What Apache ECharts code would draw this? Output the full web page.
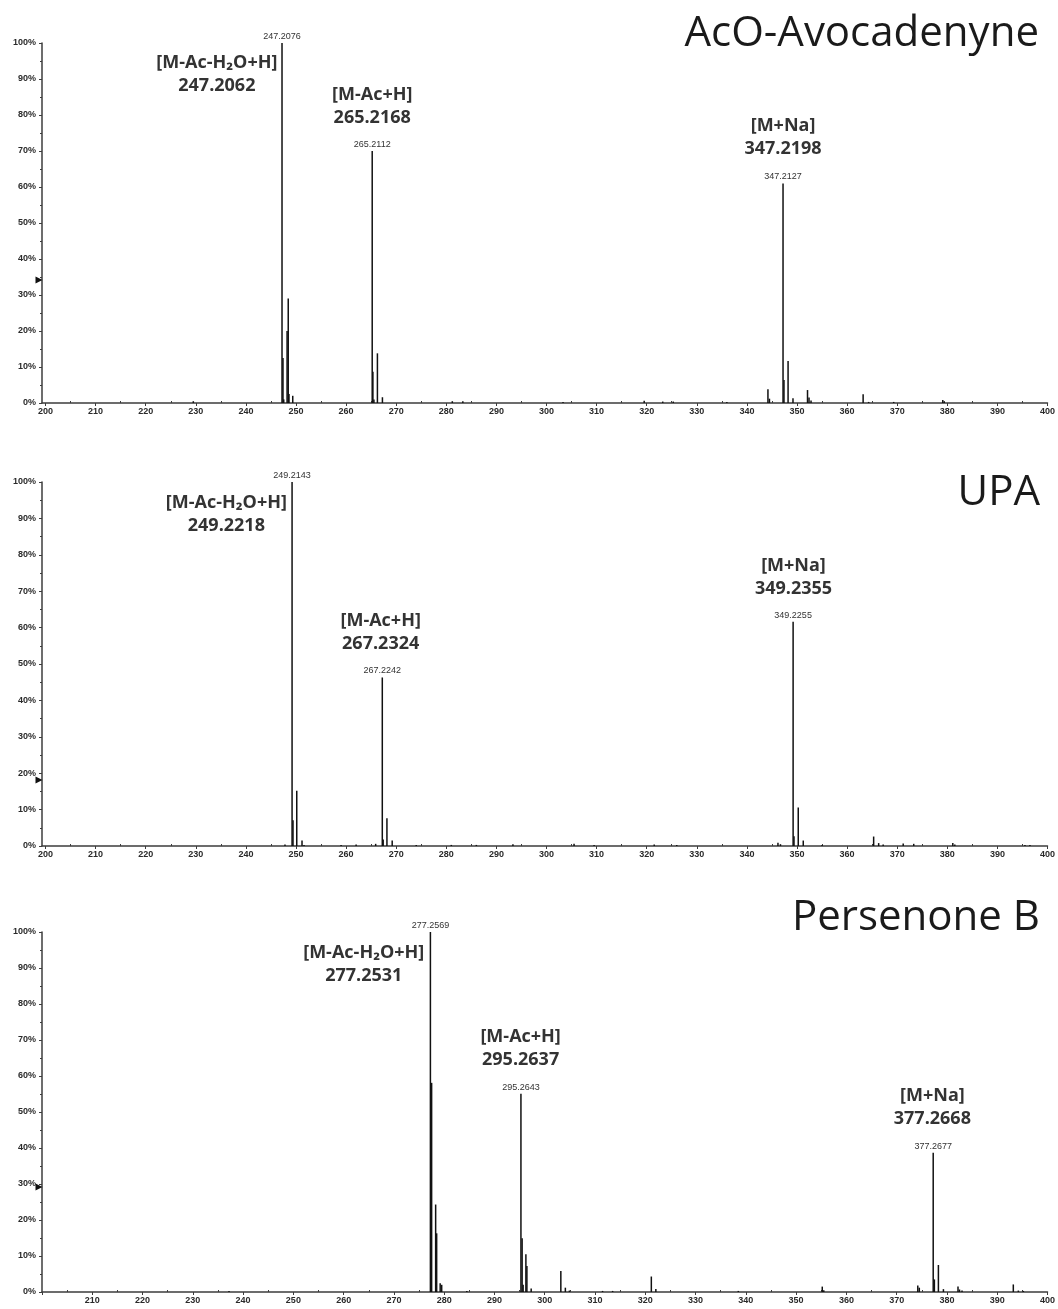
<!DOCTYPE html>
<html>
<head>
<meta charset="utf-8">
<script src="https://cdn.jsdelivr.net/npm/echarts@6/dist/echarts.min.js"></script>
<style>
  html, body { margin: 0; padding: 0; background: #ffffff; }
  #chart { width: 1058px; height: 1309px; }
</style>
</head>
<body>
<div id="chart"></div>
<script>
// ---------------- DATA ----------------
const titles = ['AcO-Avocadenyne', 'UPA', 'Persenone B'];
const ionNames = ['[M-Ac-H₂O+H]', '[M-Ac+H]', '[M+Na]'];

const xTicks1 = [200,210,220,230,240,250,260,270,280,290,300,310,320,330,340,350,360,370,380,390,400];
const xTicks2 = [200,210,220,230,240,250,260,270,280,290,300,310,320,330,340,350,360,370,380,390,400];
const xTicks3 = [210,220,230,240,250,260,270,280,290,300,310,320,330,340,350,360,370,380,390,400];
const xMinorTicks = [205,215,225,235,245,255,265,275,285,295,305,315,325,335,345,355,365,375,385,395];

// Panel 1: AcO-Avocadenyne  (m/z, relative intensity %)
const mz1  = [229.5, 247.2076, 247.40, 247.55, 248.22, 248.45, 248.60, 249.35,
              265.2112, 265.35, 265.55, 266.25, 267.25, 281.2, 283.3, 303.3, 319.5, 323.2, 325.3, 336.0,
              344.2, 344.5, 347.2127, 347.40, 348.22, 349.2, 352.1, 352.4, 352.8, 363.2, 364.3, 369.3, 379.1, 379.4];
const int1 = [0.5, 100, 12.5, 1.0, 20, 29, 2.5, 2.0,
              70, 8.7, 1.0, 13.8, 1.6, 0.5, 0.5, 0.3, 0.6, 0.4, 0.4, 0.3,
              3.8, 1.2, 61, 6.4, 11.7, 1.3, 3.6, 1.5, 0.7, 2.4, 0.3, 0.3, 0.8, 0.5];
const labeled1 = [247.2076, 265.2112, 347.2127];
const theo1 = ['247.2062', '265.2168', '347.2198'];
const threshold1 = 34.2;

// Panel 2: UPA
const mz2  = [247.8, 249.2143, 249.40, 250.15, 251.2, 251.6, 259.0, 262.0, 265.9,
              267.2242, 267.40, 268.15, 269.2, 274.0, 281.0, 286.0, 293.3, 305.5, 309.5, 321.5, 326.0,
              346.2, 346.7, 349.2255, 349.40, 350.25, 351.25, 355.0, 365.3, 366.3, 367.2, 371.2, 373.3, 381.1, 381.5, 395.5, 396.5];
const int2 = [0.4, 100, 7.1, 15.2, 1.5, 0.3, 0.3, 0.4, 0.6,
              46.3, 1.8, 7.6, 1.5, 0.3, 0.3, 0.3, 0.5, 0.6, 0.3, 0.4, 0.3,
              0.9, 0.5, 61.6, 2.7, 10.6, 1.5, 0.3, 2.6, 0.8, 0.4, 0.7, 0.6, 0.8, 0.4, 0.3, 0.3];
const labeled2 = [249.2143, 267.2242, 349.2255];
const theo2 = ['249.2218', '267.2324', '349.2355'];
const threshold2 = 18.1;

// Panel 3: Persenone B
const mz3  = [237.2, 277.2569, 277.38, 277.50, 278.30, 278.50, 279.20, 279.50, 284.5,
              295.2643, 295.50, 295.70, 296.25, 296.45, 297.3, 303.2, 304.1, 304.9, 311.5, 313.5,
              321.2, 322.1, 338.5, 355.2, 355.5, 374.2, 374.5, 377.2677, 377.50, 378.30, 379.3,
              382.2, 382.5, 383.0, 393.2, 394.2, 395.2];
const int3 = [0.3, 100, 7.5, 58.1, 24.3, 16.3, 2.4, 2.0, 0.3,
              55.1, 14.9, 2.0, 10.5, 7.2, 1.0, 5.8, 1.2, 0.4, 0.3, 0.3,
              4.3, 0.8, 0.3, 1.5, 0.5, 1.8, 1.2, 38.7, 3.5, 7.5, 0.8,
              1.5, 0.7, 0.4, 2.1, 0.4, 0.3];
const labeled3 = [277.2569, 295.2643, 377.2677];
const theo3 = ['277.2531', '295.2637', '377.2668'];
const threshold3 = 29.2;

// ---------------- LAYOUT / STYLE ----------------
const panels = [
  { mz: mz1, it: int1, lab: labeled1, theo: theo1, thr: threshold1, ticks: xTicks1,
    grid: { left: 42, right: 10, top: 43, height: 360 }, xMin: 199.3,
    titleTop: 8, titleRight: 14, annPos: [[234.2, 91.4], [265.21, 82.5], [347.21, 73.8]] },
  { mz: mz2, it: int2, lab: labeled2, theo: theo2, thr: threshold2, ticks: xTicks2,
    grid: { left: 42, right: 8, top: 482, height: 364 }, xMin: 199.3,
    titleTop: 467, titleRight: 13, annPos: [[236.1, 91.1], [266.9, 58.6], [349.3, 73.7]] },
  { mz: mz3, it: int3, lab: labeled3, theo: theo3, thr: threshold3, ticks: xTicks3,
    grid: { left: 42, right: 8, top: 932, height: 360 }, xMin: 200,
    titleTop: 892, titleRight: 13, annPos: [[264.0, 91.0], [295.2, 67.8], [377.1, 51.2]] }
];

const AX = '#3c3c3c';
const tickFont = { fontSize: 9, fontWeight: 'bold', fontFamily: 'Liberation Sans, Arial, sans-serif', color: '#2a2a2a' };

const option = { animation: false, backgroundColor: '#ffffff',
  title: [], grid: [], xAxis: [], yAxis: [], series: [] };

panels.forEach((p, i) => {
  option.title.push({
    text: titles[i], right: p.titleRight, top: p.titleTop,
    textStyle: { fontFamily: 'Open Sans, Noto Sans, sans-serif', fontSize: 42, fontWeight: 'normal', color: '#1a1a1a' }
  });
  option.grid.push(Object.assign({ containLabel: false }, p.grid));
  // main x axis
  option.xAxis.push({
    type: 'value', gridIndex: i, min: p.xMin, max: 400,
    axisLine: { show: true, onZero: false, lineStyle: { color: AX, width: 1.5 } },
    axisTick: { show: true, customValues: p.ticks.concat(i === 2 ? [200] : []), length: 3, lineStyle: { color: AX, width: 1 } },
    axisLabel: Object.assign({ customValues: p.ticks, margin: 4 }, tickFont),
    splitLine: { show: false }
  });
  // minor ticks axis
  option.xAxis.push({
    type: 'value', gridIndex: i, min: p.xMin, max: 400,
    axisLine: { show: false },
    axisTick: { show: true, customValues: xMinorTicks, length: 2, lineStyle: { color: AX, width: 1 } },
    axisLabel: { show: false },
    splitLine: { show: false }
  });
  option.yAxis.push({
    type: 'value', gridIndex: i, min: 0, max: 100, interval: 10,
    axisLine: { show: true, lineStyle: { color: AX, width: 1.5 } },
    axisTick: { show: true, length: 3, lineStyle: { color: AX } },
    minorTick: { show: true, splitNumber: 2, length: 2, lineStyle: { color: AX } },
    axisLabel: Object.assign({ formatter: '{value}%', margin: 6 }, tickFont),
    splitLine: { show: false }
  });

  const data = p.mz.map((m, j) => {
    const item = { value: [m, p.it[j]] };
    if (p.lab.indexOf(m) >= 0) {
      item.label = { show: true, position: 'top', distance: 2,
        formatter: (q) => q.value[0].toFixed(4),
        fontSize: 9, fontFamily: 'Liberation Sans, Arial, sans-serif', color: '#333' };
    }
    return item;
  });

  const mpData = p.annPos.map((c, k) => ({
    coord: c, symbol: 'circle', symbolSize: 1, itemStyle: { color: 'rgba(0,0,0,0)' },
    label: { show: true, position: 'inside', formatter: ionNames[k] + '\n' + p.theo[k],
      fontFamily: 'Open Sans, Noto Sans, sans-serif', fontWeight: 'bold', fontSize: 18,
      lineHeight: 23, color: '#333', align: 'center' }
  }));
  mpData.push({
    coord: [p.xMin, p.thr], symbol: 'triangle', symbolSize: [7, 7], symbolRotate: -90,
    symbolOffset: [-3, 0], itemStyle: { color: '#111' }, label: { show: false }
  });

  option.series.push({
    type: 'bar', xAxisIndex: i * 2, yAxisIndex: i, barWidth: 1.5,
    itemStyle: { color: '#111' }, data: data, silent: true,
    markPoint: { silent: true, data: mpData }
  });
});

const chart = echarts.init(document.getElementById('chart'), null, { renderer: 'canvas' });
chart.setOption(option);
</script>
</body>
</html>
